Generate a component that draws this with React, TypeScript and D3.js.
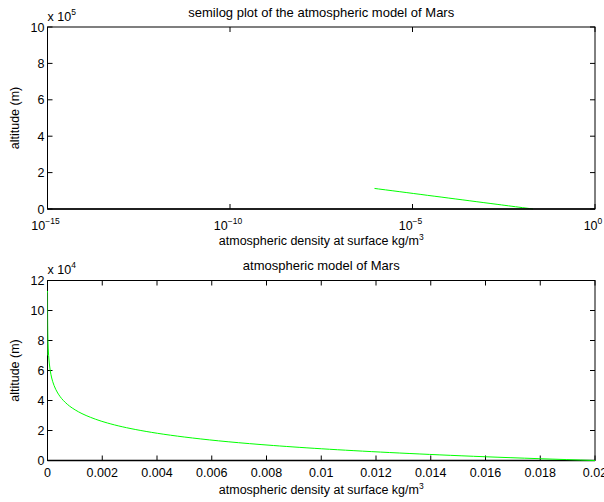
import React from "react";
import * as d3 from "d3";

// altitude (m) and density (kg/m^3)
const altitude = [0, 2500, 5000, 7500, 10000, 12500, 15000, 17500, 20000, 22500, 25000, 30000, 35000, 40000, 45000, 50000, 55000, 60000, 65000, 70000, 75000, 80000, 85000, 90000, 95000, 100000, 105000, 110000, 113000];
const density = [0.02, 0.0160, 0.01285, 0.0103, 0.00825, 0.0066, 0.0053, 0.00425, 0.00341, 0.00273, 0.00219, 0.00141, 0.000903, 0.00058, 0.000373, 0.00024, 0.000154, 0.000099, 0.000064, 0.000041, 0.000026, 0.000017, 0.0000108, 0.000007, 0.0000045, 0.0000029, 0.00000184, 0.00000118, 0.00000091];

const topYTicks = [0, 2, 4, 6, 8, 10];
const topXTickExps = [-15, -10, -5, 0];
const botYTicks = [0, 2, 4, 6, 8, 10, 12];
const botXTicks = [0, 0.002, 0.004, 0.006, 0.008, 0.01, 0.012, 0.014, 0.016, 0.018, 0.02];
const botXTickLabels = ["0", "0.002", "0.004", "0.006", "0.008", "0.01", "0.012", "0.014", "0.016", "0.018", "0.02"];

const FONT = "'Liberation Sans', Arial, Helvetica, sans-serif";
const GREEN = "#00ff00";

export default function App() {
  const L = 47.5, R = 595;
  const t = { top: 27, bottom: 209 };
  const b = { top: 280.5, bottom: 460.5 };
  const tick = 5;

  const xTop = d3.scaleLog().domain([1e-15, 1]).range([L, R]);
  const yTop = d3.scaleLinear().domain([0, 10]).range([t.bottom, t.top]);
  const xBot = d3.scaleLinear().domain([0, 0.02]).range([L, R]);
  const yBot = d3.scaleLinear().domain([0, 12]).range([b.bottom, b.top]);

  const pts = altitude.map((h, i) => ({ h, r: density[i] }));

  const lineTop = d3.line<{ h: number; r: number }>()
    .x((d) => xTop(d.r))
    .y((d) => yTop(d.h / 1e5));
  const lineBot = d3.line<{ h: number; r: number }>()
    .x((d) => xBot(d.r))
    .y((d) => yBot(d.h / 1e4))
    .curve(d3.curveMonotoneY);

  const fs = 12.5;
  const ts = 13;
  const sup = 8.5;

  return (
    <svg width={604} height={502} style={{ position: "absolute", left: 0, top: 0, background: "#fff" }} fontFamily={FONT}>
      {/* ---------- TOP PLOT ---------- */}
      <text x={(L + R) / 2} y={17} fontSize={ts} textAnchor="middle">semilog plot of the atmospheric model of Mars</text>
      <path d={lineTop(pts) || ""} fill="none" stroke={GREEN} strokeWidth={1} />
      <rect x={L} y={t.top} width={R - L} height={t.bottom - t.top} fill="none" stroke="#000" strokeWidth={1} />
      <line x1={L} x2={R} y1={t.bottom} y2={t.bottom} stroke="#000" strokeWidth={1.5} />
      {topYTicks.map((v) => (
        <g key={"ty" + v}>
          <line x1={L} x2={L + tick} y1={yTop(v)} y2={yTop(v)} stroke="#000" />
          <line x1={R} x2={R - tick} y1={yTop(v)} y2={yTop(v)} stroke="#000" />
          <text x={L - 3} y={yTop(v) + 4.5} fontSize={fs} textAnchor="end">{v}</text>
        </g>
      ))}
      {topXTickExps.map((e) => (
        <g key={"tx" + e}>
          <line x1={xTop(Math.pow(10, e))} x2={xTop(Math.pow(10, e))} y1={t.bottom} y2={t.bottom - tick} stroke="#000" />
          <line x1={xTop(Math.pow(10, e))} x2={xTop(Math.pow(10, e))} y1={t.top} y2={t.top + tick} stroke="#000" />
          <text x={xTop(Math.pow(10, e)) - 2} y={t.bottom + 21} fontSize={fs} textAnchor="middle">
            10<tspan dy={-6.5} fontSize={sup}>{e < 0 ? "\u2212" + (-e) : String(e)}</tspan>
          </text>
        </g>
      ))}
      <text x={L} y={21} fontSize={fs}>x 10<tspan dy={-6.5} fontSize={sup}>5</tspan></text>
      <text x={(L + R) / 2} y={245} fontSize={fs} textAnchor="middle">
        atmospheric density at surface kg/m<tspan dy={-5.5} fontSize={sup}>3</tspan>
      </text>
      <text transform={`translate(19,${(t.top + t.bottom) / 2}) rotate(-90)`} fontSize={fs} textAnchor="middle">altitude (m)</text>

      {/* ---------- BOTTOM PLOT ---------- */}
      <text x={(L + R) / 2} y={270} fontSize={ts} textAnchor="middle">atmospheric model of Mars</text>
      <rect x={L} y={b.top} width={R - L} height={b.bottom - b.top} fill="none" stroke="#000" strokeWidth={1} />
      <line x1={L} x2={R} y1={b.bottom} y2={b.bottom} stroke="#000" strokeWidth={1.5} />
      {botYTicks.map((v) => (
        <g key={"by" + v}>
          <line x1={L} x2={L + tick} y1={yBot(v)} y2={yBot(v)} stroke="#000" />
          <line x1={R} x2={R - tick} y1={yBot(v)} y2={yBot(v)} stroke="#000" />
          <text x={L - 3} y={yBot(v) + 4.5} fontSize={fs} textAnchor="end">{v}</text>
        </g>
      ))}
      {botXTicks.map((v, i) => (
        <g key={"bx" + i}>
          <line x1={xBot(v)} x2={xBot(v)} y1={b.bottom} y2={b.bottom - tick} stroke="#000" />
          <line x1={xBot(v)} x2={xBot(v)} y1={b.top} y2={b.top + tick} stroke="#000" />
          <text x={xBot(v)} y={b.bottom + 16} fontSize={fs} textAnchor="middle">{botXTickLabels[i]}</text>
        </g>
      ))}
      <path d={lineBot(pts) || ""} fill="none" stroke={GREEN} strokeWidth={1} />
      <line x1={L} x2={L} y1={yBot(7)} y2={yBot(11.2)} stroke="#1a8a1a" strokeWidth={1} />
      <text x={L} y={274} fontSize={fs}>x 10<tspan dy={-6.5} fontSize={sup}>4</tspan></text>
      <text x={(L + R) / 2} y={494} fontSize={fs} textAnchor="middle">
        atmospheric density at surface kg/m<tspan dy={-5.5} fontSize={sup}>3</tspan>
      </text>
      <text transform={`translate(19,${(b.top + b.bottom) / 2}) rotate(-90)`} fontSize={fs} textAnchor="middle">altitude (m)</text>
    </svg>
  );
}
